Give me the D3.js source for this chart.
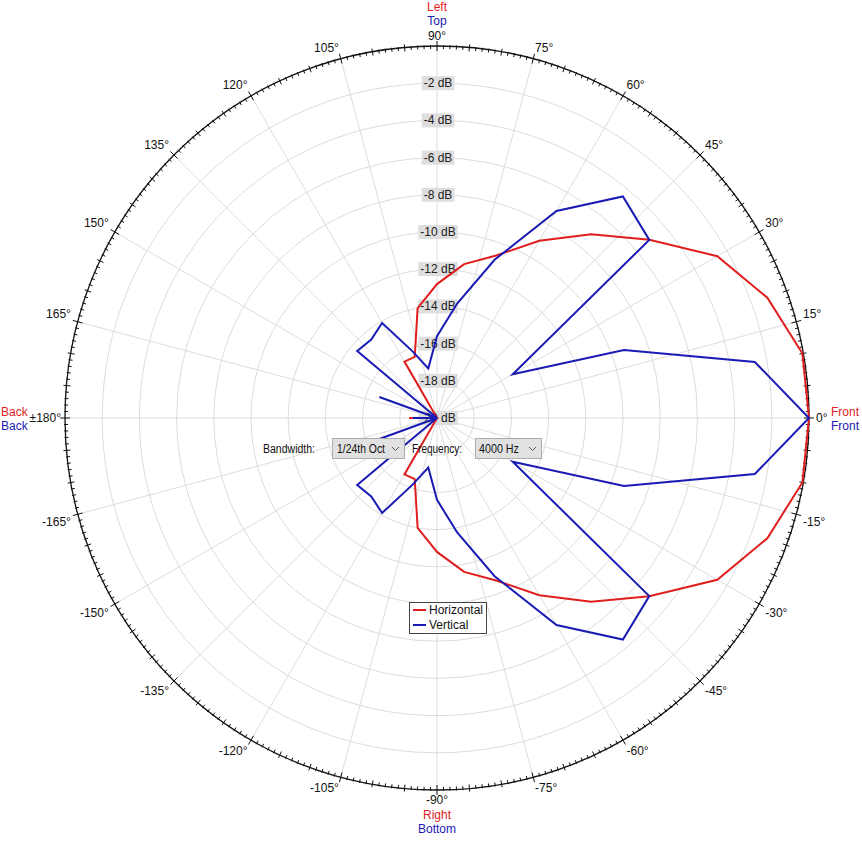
<!DOCTYPE html>
<html><head><meta charset="utf-8">
<script src="https://cdn.jsdelivr.net/npm/d3@7"></script>
<style>
html,body{margin:0;padding:0;background:#fff;}
svg text{font-family:"Liberation Sans",Arial,sans-serif;}
</style></head>
<body>
<svg id="chart" width="862" height="841"></svg>
<script>
// ---- data ----
const angles = [-170,-160,-150,-140,-130,-120,-110,-100,-90,-80,-70,-60,-50,-40,-30,-20,-10,0,10,20,30,40,50,60,70,80,90,100,110,120,130,140,150,160,170,180];
const horizontal = [-20,-20,-20,-20,-20,-16.5,-16.5,-14.0,-12.8,-11.6,-10.7,-9.0,-7.1,-5.1,-2.6,-1.1,-0.05,0,-0.05,-1.1,-2.6,-5.1,-7.1,-9.0,-10.7,-11.6,-12.8,-14.0,-16.5,-16.5,-20,-20,-20,-20,-20,-18.5];
const vertical = [-20,-16.7,-20,-14.4,-14.5,-14.1,-16.2,-17.3,-15.6,-13.75,-10.95,-7.15,-4.45,-5.1,-15.3,-9.3,-2.65,0,-2.65,-9.3,-15.3,-5.1,-4.45,-7.15,-10.95,-13.75,-15.6,-17.3,-16.2,-14.1,-14.5,-14.4,-20,-16.7,-20,-18.7];
const seriesNames = ["Horizontal","Vertical"];
const dbTicks = [-2,-4,-6,-8,-10,-12,-14,-16,-18,-20];
const angleTicks = [0,15,30,45,60,75,90,105,120,135,150,165,180,-165,-150,-135,-120,-105,-90,-75,-60,-45,-30,-15];
const angleTickLabels = ["0°","15°","30°","45°","60°","75°","90°","105°","120°","135°","150°","165°","±180°","-165°","-150°","-135°","-120°","-105°","-90°","-75°","-60°","-45°","-30°","-15°"];
const bandwidthOption = "1/24th Oct";
const frequencyOption = "4000 Hz";

// ---- layout ----
const cx = 437, cy = 418, R = 372;
const RED = "#e01e1e", BLUE = "#1a1ab4";
const svg = d3.select("#chart");
const r = d3.scaleLinear().domain([-20,0]).range([0,R]).clamp(true);
const toRad = a => a*Math.PI/180;
const px = (a,rad) => cx + rad*Math.cos(toRad(a));
const py = (a,rad) => cy - rad*Math.sin(toRad(a));

const g = svg.append("g");

// grid circles
g.selectAll("circle.grid").data(dbTicks.filter(d=>d>-20)).enter().append("circle")
  .attr("cx",cx).attr("cy",cy).attr("r",d=>r(d))
  .attr("fill","none").attr("stroke","#dcdcdc").attr("stroke-width",1);
// radial lines
g.selectAll("line.spoke").data(d3.range(0,360,15)).enter().append("line")
  .attr("x1",cx).attr("y1",cy).attr("x2",d=>px(d,R)).attr("y2",d=>py(d,R))
  .attr("stroke","#dcdcdc").attr("stroke-width",1);

// outer circle
g.append("circle").attr("cx",cx).attr("cy",cy).attr("r",R)
  .attr("fill","none").attr("stroke","#111").attr("stroke-width",1.3);
// tick marks every 1 deg
g.selectAll("line.tick").data(d3.range(0,360,1)).enter().append("line")
  .attr("x1",d=>px(d, R - (d%15===0?5:(d%5===0?4:3))))
  .attr("y1",d=>py(d, R - (d%15===0?5:(d%5===0?4:3))))
  .attr("x2",d=>px(d, R + (d%15===0?5:(d%5===0?3:1))))
  .attr("y2",d=>py(d, R + (d%15===0?5:(d%5===0?3:1))))
  .attr("stroke","#111").attr("stroke-width",1);

// angle labels
angleTicks.forEach((a,i)=>{
  const c = Math.cos(toRad(a));
  let s = Math.sin(toRad(a));
  if (Math.abs(s) < 0.01) s = 0;
  const anchor = c > 0.15 ? "start" : (c < -0.15 ? "end" : "middle");
  let x, y;
  if (anchor === "middle") { x = px(a, R+10); y = py(a, R+10); }
  else {
    const rr = R + 7;
    x = px(a, rr);
    y = py(a, rr) - s*4 - Math.sign(s)*(1-Math.abs(s))*7;
  }
  if (a === 180) { x += 3; y = cy; }
  if (a === 0) y = cy;
  g.append("text").attr("x",x).attr("y",y)
    .attr("text-anchor",anchor).attr("dominant-baseline","central")
    .attr("font-size",12).attr("fill","#111").text(angleTickLabels[i]);
});

// direction labels
const dirText = (x,y,t,col,anchor)=> g.append("text").attr("x",x).attr("y",y)
  .attr("text-anchor",anchor).attr("dominant-baseline","central").attr("font-size",12).attr("fill",col).text(t);
dirText(cx,7,"Left",RED,"middle");
dirText(cx,21,"Top",BLUE,"middle");
dirText(cx,815,"Right",RED,"middle");
dirText(cx,829,"Bottom",BLUE,"middle");
dirText(831,412,"Front",RED,"start");
dirText(831,426,"Front",BLUE,"start");
dirText(1,412,"Back",RED,"start");
dirText(1,426,"Back",BLUE,"start");

// dB labels with boxes
dbTicks.forEach(d=>{
  const y = cy - r(d);
  const t = g.append("text").attr("x",cx+1).attr("y",y).attr("text-anchor","middle")
    .attr("dominant-baseline","central").attr("font-size",12).attr("fill","#222").text(d+" dB");
  const bb = t.node().getBBox();
  g.insert("rect", () => t.node()).attr("x",bb.x-2).attr("y",y-7).attr("width",bb.width+4).attr("height",14)
    .attr("fill","#dedede");
});

// series lines
const line = d3.lineRadial()
  .angle(d => toRad(90 - d.a))
  .radius(d => r(d.v))
  .curve(d3.curveLinearClosed);
const series = [
  {name:seriesNames[0], color:RED, vals:horizontal},
  {name:seriesNames[1], color:BLUE, vals:vertical}
];
const pg = svg.append("g").attr("transform",`translate(${cx},${cy})`);
series.forEach(s=>{
  pg.append("path").datum(angles.map((a,i)=>({a, v:s.vals[i]})))
    .attr("d",line).attr("fill","none").attr("stroke",s.color).attr("stroke-width",2)
    .attr("stroke-linejoin","miter");
});

// controls
const ui = svg.append("g");
const uiText = (x,t,w)=> ui.append("text").attr("x",x).attr("y",449).attr("dominant-baseline","central")
  .attr("font-size",12).attr("fill","#111").attr("textLength",w).attr("lengthAdjust","spacingAndGlyphs").text(t);
uiText(263,"Bandwidth:",52);
ui.append("rect").attr("x",332.5).attr("y",438.5).attr("width",72).attr("height",20).attr("fill","#e1e1e1").attr("stroke","#adadad");
uiText(337,bandwidthOption,48);
ui.append("polyline").attr("points","392,447 395.5,450.5 399,447").attr("fill","none").attr("stroke","#555");
uiText(412,"Frequency:",50);
ui.append("rect").attr("x",475.5).attr("y",438.5).attr("width",66).attr("height",20).attr("fill","#e1e1e1").attr("stroke","#adadad");
uiText(479,frequencyOption,40);
ui.append("polyline").attr("points","529,447 532.5,450.5 536,447").attr("fill","none").attr("stroke","#555");

// legend
const lg = svg.append("g");
lg.append("rect").attr("x",409.5).attr("y",602.5).attr("width",77).attr("height",31).attr("fill","#fff").attr("stroke","#444");
series.forEach((s,i)=>{
  const y = 610 + i*15;
  lg.append("line").attr("x1",413).attr("x2",426).attr("y1",y).attr("y2",y).attr("stroke",s.color).attr("stroke-width",2);
  lg.append("text").attr("x",429).attr("y",y).attr("dominant-baseline","central").attr("font-size",12).attr("fill","#111").text(s.name);
});
</script>
</body></html>
